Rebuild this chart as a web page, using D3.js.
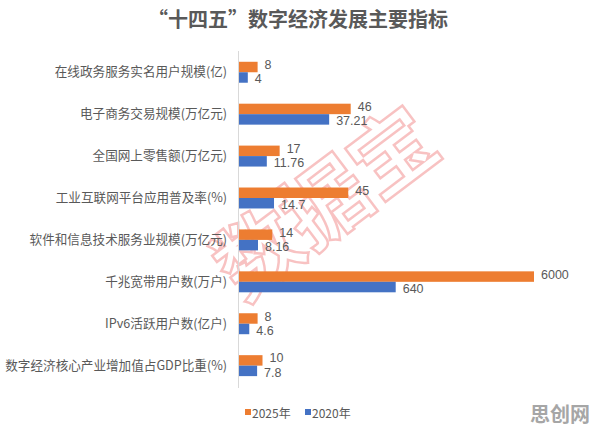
<!DOCTYPE html>
<html>
<head>
<meta charset="utf-8">
<script src="https://cdn.jsdelivr.net/npm/d3@7"></script>
<style>
  html, body { margin: 0; padding: 0; background: #fff; }
  svg { display: block; font-family: "Noto Sans CJK SC", "Noto Sans", sans-serif; }
</style>
</head>
<body>
<svg id="chart" width="596" height="427"></svg>
<script>
const title = "“十四五”数字经济发展主要指标";
const categories = [
  "在线政务服务实名用户规模(亿)",
  "电子商务交易规模(万亿元)",
  "全国网上零售额(万亿元)",
  "工业互联网平台应用普及率(%)",
  "软件和信息技术服务业规模(万亿元)",
  "千兆宽带用户数(万户)",
  "IPv6活跃用户数(亿户)",
  "数字经济核心产业增加值占GDP比重(%)"
];
const seriesNames = ["2025年", "2020年"];
const values2025 = [8, 46, 17, 45, 14, 6000, 8, 10];
const values2020 = [4, 37.21, 11.76, 14.7, 8.16, 640, 4.6, 7.8];
const labels2025 = ["8", "46", "17", "45", "14", "6000", "8", "10"];
const labels2020 = ["4", "37.21", "11.76", "14.7", "8.16", "640", "4.6", "7.8"];
// the original uses a compressed (broken) value axis beyond ~50
const axisBreaks = [0, 50, 640, 6000];

const colors = { "2025年": "#ED7D31", "2020年": "#4472C4" };
const textColor = "#595959";

const W = 596, H = 427;
const svg = d3.select("#chart");

const x0 = 238;
const x = d3.scaleLinear()
  .domain(axisBreaks)
  .range([x0, x0 + 122.5, x0 + 157.7, x0 + 296]);

const y = d3.scaleBand()
  .domain(categories)
  .range([51.3, 386.6])
  .paddingInner(0.5)
  .paddingOuter(0.25);

const ySub = d3.scaleBand()
  .domain(seriesNames)
  .range([0, y.bandwidth()]);

const rows = categories.map((c, i) => ({
  cat: c,
  series: [
    { name: seriesNames[0], value: values2025[i], label: labels2025[i], dy: -2 },
    { name: seriesNames[1], value: values2020[i], label: labels2020[i], dy: 2 }
  ]
}));

// title
svg.append("text")
  .attr("x", W / 2)
  .attr("y", 27)
  .attr("text-anchor", "middle")
  .attr("font-size", 20)
  .attr("font-weight", "bold")
  .attr("fill", textColor)
  .text(title);

// watermark (diagonal)
svg.append("text")
  .attr("transform", "translate(322,198) rotate(-37)")
  .attr("text-anchor", "middle")
  .attr("dominant-baseline", "central")
  .attr("font-size", 84)
  .attr("font-weight", "bold")
  .attr("fill", "none")
  .attr("stroke", "#f07a7a")
  .attr("stroke-width", 2.5)
  .attr("opacity", 0.45)
  .text("数据宝");

// bars
const g = svg.append("g");
const rowG = g.selectAll("g.row").data(rows).join("g")
  .attr("class", "row")
  .attr("transform", d => `translate(0,${y(d.cat)})`);

rowG.selectAll("rect").data(d => d.series).join("rect")
  .attr("x", x(0))
  .attr("y", d => ySub(d.name))
  .attr("width", d => x(d.value) - x(0))
  .attr("height", ySub.bandwidth())
  .attr("fill", d => colors[d.name]);

rowG.selectAll("text.val").data(d => d.series).join("text")
  .attr("class", "val")
  .attr("x", d => x(d.value) + 7)
  .attr("y", d => ySub(d.name) + ySub.bandwidth() / 2 + d.dy)
  .attr("dominant-baseline", "central")
  .attr("font-size", 12.5)
  .attr("font-family", "\"Liberation Sans\", Arial, sans-serif")
  .attr("fill", textColor)
  .text(d => d.label);

// axis
const yAxis = d3.axisLeft(y).tickSize(0).tickPadding(11);
const axG = svg.append("g")
  .attr("transform", `translate(${x0},0)`)
  .call(yAxis);
axG.select(".domain").attr("stroke", "#d9d9d9").attr("d", `M0.5,${51}V${388}`);
axG.selectAll(".tick text")
  .attr("font-size", 12.6)
  .attr("fill", textColor)
  .attr("font-family", "\"Noto Sans CJK SC\", sans-serif");

// legend
const legend = svg.append("g").attr("transform", "translate(245,412)");
seriesNames.forEach((s, i) => {
  const item = legend.append("g").attr("transform", `translate(${i * 60},0)`);
  item.append("rect").attr("x", 0).attr("y", -3).attr("width", 6).attr("height", 6).attr("fill", colors[s]);
  item.append("text").attr("x", 7).attr("y", 0)
    .attr("dominant-baseline", "central")
    .attr("font-size", 12).attr("fill", textColor).text(s);
});

// site watermark
svg.append("text")
  .attr("x", 590).attr("y", 413)
  .attr("text-anchor", "end")
  .attr("dominant-baseline", "central")
  .attr("font-size", 20).attr("font-weight", "bold")
  .attr("fill", "#a6a6a6")
  .text("思创网");
</script>
</body>
</html>
